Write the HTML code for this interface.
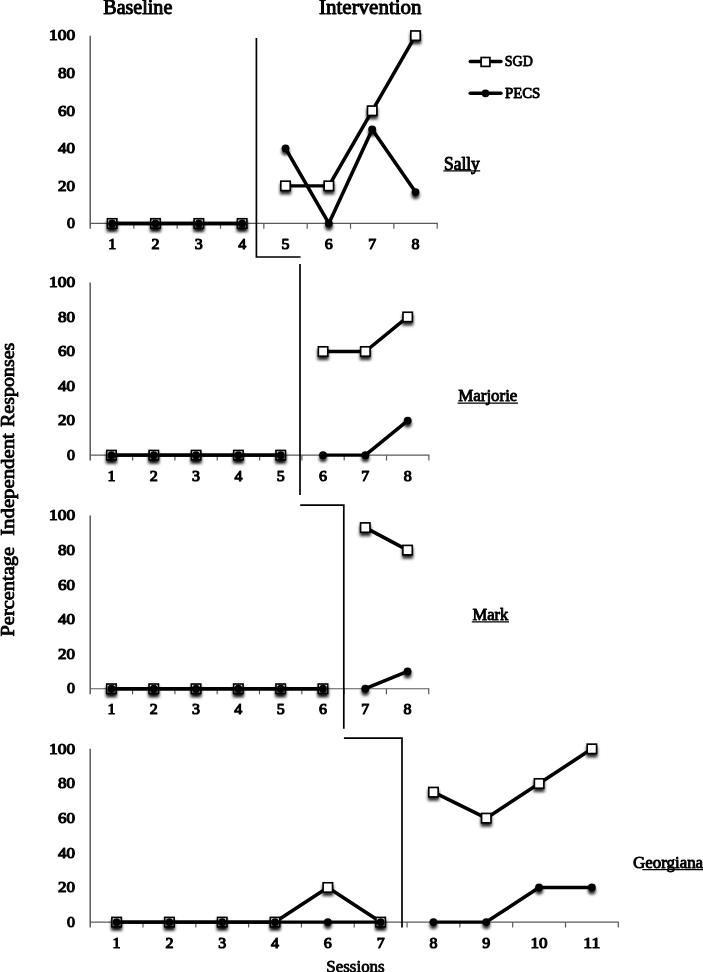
<!DOCTYPE html>
<html lang="en"><head><meta charset="utf-8"><title>Percentage Independent Responses</title>
<style>html,body{margin:0;padding:0;background:#fff}body{width:703px;height:972px;overflow:hidden}svg{display:block}text{font-family:"Liberation Serif", serif;fill:#000;stroke:#000;stroke-linejoin:round}</style>
</head><body>
<svg width="703" height="972" viewBox="0 0 703 972">
<defs><filter id="sh" x="0" y="0" width="703" height="972" filterUnits="userSpaceOnUse" primitiveUnits="userSpaceOnUse"><feGaussianBlur in="SourceAlpha" stdDeviation="1.7" result="b"/><feOffset in="b" dx="0" dy="2.7" result="o"/><feComponentTransfer in="o" result="s"><feFuncA type="linear" slope="0.85"/></feComponentTransfer><feMerge><feMergeNode in="s"/><feMergeNode in="SourceGraphic"/></feMerge></filter></defs>
<rect width="703" height="972" fill="#fff"/>
<g stroke="#5a5a5a" stroke-width="1.2" fill="none">
<path d="M90.2 35.65V228.85" stroke-width="1.5"/>
<path d="M90.2 223.45H437.8"/>
<path d="M133.82 223.45v5.4M177.16 223.45v5.4M220.50 223.45v5.4M263.84 223.45v5.4M307.18 223.45v5.4M350.52 223.45v5.4M393.86 223.45v5.4M437.20 223.45v5.4"/>
</g>
<text x="75.06" y="228.21" font-size="14.98" stroke-width="1.08" text-anchor="end" textLength="7.97" lengthAdjust="spacingAndGlyphs">0</text>
<text x="75.06" y="190.65" font-size="14.98" stroke-width="1.08" text-anchor="end" textLength="17.02" lengthAdjust="spacingAndGlyphs">20</text>
<text x="75.06" y="153.09" font-size="14.98" stroke-width="1.08" text-anchor="end" textLength="17.02" lengthAdjust="spacingAndGlyphs">40</text>
<text x="75.06" y="115.53" font-size="14.98" stroke-width="1.08" text-anchor="end" textLength="17.02" lengthAdjust="spacingAndGlyphs">60</text>
<text x="75.06" y="77.97" font-size="14.98" stroke-width="1.08" text-anchor="end" textLength="17.02" lengthAdjust="spacingAndGlyphs">80</text>
<text x="75.06" y="40.41" font-size="14.98" stroke-width="1.08" text-anchor="end" textLength="26.02" lengthAdjust="spacingAndGlyphs">100</text>
<text x="112.15" y="249.21" font-size="14.98" stroke-width="1.08" text-anchor="middle" textLength="7.97" lengthAdjust="spacingAndGlyphs">1</text>
<text x="155.49" y="249.21" font-size="14.98" stroke-width="1.08" text-anchor="middle" textLength="7.97" lengthAdjust="spacingAndGlyphs">2</text>
<text x="198.83" y="249.21" font-size="14.98" stroke-width="1.08" text-anchor="middle" textLength="7.97" lengthAdjust="spacingAndGlyphs">3</text>
<text x="242.17" y="249.21" font-size="14.98" stroke-width="1.08" text-anchor="middle" textLength="7.97" lengthAdjust="spacingAndGlyphs">4</text>
<text x="285.51" y="249.21" font-size="14.98" stroke-width="1.08" text-anchor="middle" textLength="7.97" lengthAdjust="spacingAndGlyphs">5</text>
<text x="328.85" y="249.21" font-size="14.98" stroke-width="1.08" text-anchor="middle" textLength="7.97" lengthAdjust="spacingAndGlyphs">6</text>
<text x="372.19" y="249.21" font-size="14.98" stroke-width="1.08" text-anchor="middle" textLength="7.97" lengthAdjust="spacingAndGlyphs">7</text>
<text x="415.53" y="249.21" font-size="14.98" stroke-width="1.08" text-anchor="middle" textLength="7.97" lengthAdjust="spacingAndGlyphs">8</text>
<path d="M112.15 223.45L155.49 223.45M155.49 223.45L198.83 223.45M198.83 223.45L242.17 223.45" fill="none" stroke="#000" stroke-width="3.4"/>
<path d="M285.51 185.89L328.85 185.89" fill="none" stroke="#000" stroke-width="3.4"/>
<path d="M328.85 185.89L372.19 110.77M372.19 110.77L415.53 35.65" fill="none" stroke="#000" stroke-width="3.55" stroke-linecap="round"/>
<g filter="url(#sh)" fill="#fff" stroke="#000" stroke-width="1.65">
<rect x="107.45" y="218.75" width="9.4" height="9.4"/>
<rect x="150.79" y="218.75" width="9.4" height="9.4"/>
<rect x="194.13" y="218.75" width="9.4" height="9.4"/>
<rect x="237.47" y="218.75" width="9.4" height="9.4"/>
<rect x="280.81" y="181.19" width="9.4" height="9.4"/>
<rect x="324.15" y="181.19" width="9.4" height="9.4"/>
<rect x="367.49" y="106.07" width="9.4" height="9.4"/>
<rect x="410.83" y="30.95" width="9.4" height="9.4"/>
</g>
<path d="M112.15 223.45L155.49 223.45M155.49 223.45L198.83 223.45M198.83 223.45L242.17 223.45" fill="none" stroke="#000" stroke-width="3.4"/>
<path d="M285.51 148.33L328.85 223.45M328.85 223.45L372.19 129.55M372.19 129.55L415.53 192.09" fill="none" stroke="#000" stroke-width="3.55" stroke-linecap="round"/>
<g filter="url(#sh)" fill="#000">
<circle cx="112.15" cy="223.45" r="3.95"/>
<circle cx="155.49" cy="223.45" r="3.95"/>
<circle cx="198.83" cy="223.45" r="3.95"/>
<circle cx="242.17" cy="223.45" r="3.95"/>
<circle cx="285.51" cy="148.33" r="3.95"/>
<circle cx="328.85" cy="223.45" r="3.95"/>
<circle cx="372.19" cy="129.55" r="3.95"/>
<circle cx="415.53" cy="192.09" r="3.95"/>
</g>
<g stroke="#5a5a5a" stroke-width="1.2" fill="none">
<path d="M90.2 282.4V460.54999999999995" stroke-width="1.5"/>
<path d="M90.2 455.15H429.45000000000005"/>
<path d="M132.62 455.15v5.4M174.94 455.15v5.4M217.26 455.15v5.4M259.57 455.15v5.4M301.89 455.15v5.4M344.21 455.15v5.4M386.53 455.15v5.4M428.85 455.15v5.4"/>
</g>
<text x="75.06" y="459.91" font-size="14.98" stroke-width="1.08" text-anchor="end" textLength="7.97" lengthAdjust="spacingAndGlyphs">0</text>
<text x="75.06" y="425.36" font-size="14.98" stroke-width="1.08" text-anchor="end" textLength="17.02" lengthAdjust="spacingAndGlyphs">20</text>
<text x="75.06" y="390.81" font-size="14.98" stroke-width="1.08" text-anchor="end" textLength="17.02" lengthAdjust="spacingAndGlyphs">40</text>
<text x="75.06" y="356.26" font-size="14.98" stroke-width="1.08" text-anchor="end" textLength="17.02" lengthAdjust="spacingAndGlyphs">60</text>
<text x="75.06" y="321.71" font-size="14.98" stroke-width="1.08" text-anchor="end" textLength="17.02" lengthAdjust="spacingAndGlyphs">80</text>
<text x="75.06" y="287.16" font-size="14.98" stroke-width="1.08" text-anchor="end" textLength="26.02" lengthAdjust="spacingAndGlyphs">100</text>
<text x="111.46" y="480.91" font-size="14.98" stroke-width="1.08" text-anchor="middle" textLength="7.97" lengthAdjust="spacingAndGlyphs">1</text>
<text x="153.78" y="480.91" font-size="14.98" stroke-width="1.08" text-anchor="middle" textLength="7.97" lengthAdjust="spacingAndGlyphs">2</text>
<text x="196.1" y="480.91" font-size="14.98" stroke-width="1.08" text-anchor="middle" textLength="7.97" lengthAdjust="spacingAndGlyphs">3</text>
<text x="238.42" y="480.91" font-size="14.98" stroke-width="1.08" text-anchor="middle" textLength="7.97" lengthAdjust="spacingAndGlyphs">4</text>
<text x="280.73" y="480.91" font-size="14.98" stroke-width="1.08" text-anchor="middle" textLength="7.97" lengthAdjust="spacingAndGlyphs">5</text>
<text x="323.05" y="480.91" font-size="14.98" stroke-width="1.08" text-anchor="middle" textLength="7.97" lengthAdjust="spacingAndGlyphs">6</text>
<text x="365.37" y="480.91" font-size="14.98" stroke-width="1.08" text-anchor="middle" textLength="7.97" lengthAdjust="spacingAndGlyphs">7</text>
<text x="407.69" y="480.91" font-size="14.98" stroke-width="1.08" text-anchor="middle" textLength="7.97" lengthAdjust="spacingAndGlyphs">8</text>
<path d="M111.46 455.15L153.78 455.15M153.78 455.15L196.10 455.15M196.10 455.15L238.42 455.15M238.42 455.15L280.73 455.15" fill="none" stroke="#000" stroke-width="3.4"/>
<path d="M323.05 351.50L365.37 351.50" fill="none" stroke="#000" stroke-width="3.4"/>
<path d="M365.37 351.50L407.69 316.95" fill="none" stroke="#000" stroke-width="3.55" stroke-linecap="round"/>
<g filter="url(#sh)" fill="#fff" stroke="#000" stroke-width="1.65">
<rect x="106.76" y="450.45" width="9.4" height="9.4"/>
<rect x="149.08" y="450.45" width="9.4" height="9.4"/>
<rect x="191.40" y="450.45" width="9.4" height="9.4"/>
<rect x="233.72" y="450.45" width="9.4" height="9.4"/>
<rect x="276.03" y="450.45" width="9.4" height="9.4"/>
<rect x="318.35" y="346.80" width="9.4" height="9.4"/>
<rect x="360.67" y="346.80" width="9.4" height="9.4"/>
<rect x="402.99" y="312.25" width="9.4" height="9.4"/>
</g>
<path d="M111.46 455.15L153.78 455.15M153.78 455.15L196.10 455.15M196.10 455.15L238.42 455.15M238.42 455.15L280.73 455.15" fill="none" stroke="#000" stroke-width="3.4"/>
<path d="M323.05 455.15L365.37 455.15" fill="none" stroke="#000" stroke-width="3.4"/>
<path d="M365.37 455.15L407.69 420.60" fill="none" stroke="#000" stroke-width="3.55" stroke-linecap="round"/>
<g filter="url(#sh)" fill="#000">
<circle cx="111.46" cy="455.15" r="3.95"/>
<circle cx="153.78" cy="455.15" r="3.95"/>
<circle cx="196.10" cy="455.15" r="3.95"/>
<circle cx="238.42" cy="455.15" r="3.95"/>
<circle cx="280.73" cy="455.15" r="3.95"/>
<circle cx="323.05" cy="455.15" r="3.95"/>
<circle cx="365.37" cy="455.15" r="3.95"/>
<circle cx="407.69" cy="420.60" r="3.95"/>
</g>
<g stroke="#5a5a5a" stroke-width="1.2" fill="none">
<path d="M90.2 515.45V694.13" stroke-width="1.5"/>
<path d="M90.2 688.73H429.33000000000004"/>
<path d="M132.59 688.73v5.4M174.89 688.73v5.4M217.20 688.73v5.4M259.50 688.73v5.4M301.81 688.73v5.4M344.12 688.73v5.4M386.42 688.73v5.4M428.73 688.73v5.4"/>
</g>
<text x="75.06" y="693.49" font-size="14.98" stroke-width="1.08" text-anchor="end" textLength="7.97" lengthAdjust="spacingAndGlyphs">0</text>
<text x="75.06" y="658.83" font-size="14.98" stroke-width="1.08" text-anchor="end" textLength="17.02" lengthAdjust="spacingAndGlyphs">20</text>
<text x="75.06" y="624.18" font-size="14.98" stroke-width="1.08" text-anchor="end" textLength="17.02" lengthAdjust="spacingAndGlyphs">40</text>
<text x="75.06" y="589.52" font-size="14.98" stroke-width="1.08" text-anchor="end" textLength="17.02" lengthAdjust="spacingAndGlyphs">60</text>
<text x="75.06" y="554.87" font-size="14.98" stroke-width="1.08" text-anchor="end" textLength="17.02" lengthAdjust="spacingAndGlyphs">80</text>
<text x="75.06" y="520.21" font-size="14.98" stroke-width="1.08" text-anchor="end" textLength="26.02" lengthAdjust="spacingAndGlyphs">100</text>
<text x="111.43" y="714.49" font-size="14.98" stroke-width="1.08" text-anchor="middle" textLength="7.97" lengthAdjust="spacingAndGlyphs">1</text>
<text x="153.74" y="714.49" font-size="14.98" stroke-width="1.08" text-anchor="middle" textLength="7.97" lengthAdjust="spacingAndGlyphs">2</text>
<text x="196.05" y="714.49" font-size="14.98" stroke-width="1.08" text-anchor="middle" textLength="7.97" lengthAdjust="spacingAndGlyphs">3</text>
<text x="238.35" y="714.49" font-size="14.98" stroke-width="1.08" text-anchor="middle" textLength="7.97" lengthAdjust="spacingAndGlyphs">4</text>
<text x="280.66" y="714.49" font-size="14.98" stroke-width="1.08" text-anchor="middle" textLength="7.97" lengthAdjust="spacingAndGlyphs">5</text>
<text x="322.96" y="714.49" font-size="14.98" stroke-width="1.08" text-anchor="middle" textLength="7.97" lengthAdjust="spacingAndGlyphs">6</text>
<text x="365.27" y="714.49" font-size="14.98" stroke-width="1.08" text-anchor="middle" textLength="7.97" lengthAdjust="spacingAndGlyphs">7</text>
<text x="407.58" y="714.49" font-size="14.98" stroke-width="1.08" text-anchor="middle" textLength="7.97" lengthAdjust="spacingAndGlyphs">8</text>
<path d="M111.43 688.73L153.74 688.73M153.74 688.73L196.05 688.73M196.05 688.73L238.35 688.73M238.35 688.73L280.66 688.73M280.66 688.73L322.96 688.73" fill="none" stroke="#000" stroke-width="3.4"/>
<path d="M365.27 527.58L407.58 550.11" fill="none" stroke="#000" stroke-width="3.55" stroke-linecap="round"/>
<g filter="url(#sh)" fill="#fff" stroke="#000" stroke-width="1.65">
<rect x="106.73" y="684.03" width="9.4" height="9.4"/>
<rect x="149.04" y="684.03" width="9.4" height="9.4"/>
<rect x="191.35" y="684.03" width="9.4" height="9.4"/>
<rect x="233.65" y="684.03" width="9.4" height="9.4"/>
<rect x="275.96" y="684.03" width="9.4" height="9.4"/>
<rect x="318.26" y="684.03" width="9.4" height="9.4"/>
<rect x="360.57" y="522.88" width="9.4" height="9.4"/>
<rect x="402.88" y="545.41" width="9.4" height="9.4"/>
</g>
<path d="M111.43 688.73L153.74 688.73M153.74 688.73L196.05 688.73M196.05 688.73L238.35 688.73M238.35 688.73L280.66 688.73M280.66 688.73L322.96 688.73" fill="none" stroke="#000" stroke-width="3.4"/>
<path d="M365.27 688.73L407.58 671.40" fill="none" stroke="#000" stroke-width="3.55" stroke-linecap="round"/>
<g filter="url(#sh)" fill="#000">
<circle cx="111.43" cy="688.73" r="3.95"/>
<circle cx="153.74" cy="688.73" r="3.95"/>
<circle cx="196.05" cy="688.73" r="3.95"/>
<circle cx="238.35" cy="688.73" r="3.95"/>
<circle cx="280.66" cy="688.73" r="3.95"/>
<circle cx="322.96" cy="688.73" r="3.95"/>
<circle cx="365.27" cy="688.73" r="3.95"/>
<circle cx="407.58" cy="671.40" r="3.95"/>
</g>
<g stroke="#5a5a5a" stroke-width="1.2" fill="none">
<path d="M90.2 748.85V927.5" stroke-width="1.5"/>
<path d="M90.2 922.1H618.9"/>
<path d="M143.01 922.1v5.4M195.82 922.1v5.4M248.63 922.1v5.4M301.44 922.1v5.4M354.25 922.1v5.4M407.06 922.1v5.4M459.87 922.1v5.4M512.68 922.1v5.4M565.49 922.1v5.4M618.30 922.1v5.4"/>
</g>
<text x="75.06" y="926.86" font-size="14.98" stroke-width="1.08" text-anchor="end" textLength="7.97" lengthAdjust="spacingAndGlyphs">0</text>
<text x="75.06" y="892.21" font-size="14.98" stroke-width="1.08" text-anchor="end" textLength="17.02" lengthAdjust="spacingAndGlyphs">20</text>
<text x="75.06" y="857.56" font-size="14.98" stroke-width="1.08" text-anchor="end" textLength="17.02" lengthAdjust="spacingAndGlyphs">40</text>
<text x="75.06" y="822.91" font-size="14.98" stroke-width="1.08" text-anchor="end" textLength="17.02" lengthAdjust="spacingAndGlyphs">60</text>
<text x="75.06" y="788.26" font-size="14.98" stroke-width="1.08" text-anchor="end" textLength="17.02" lengthAdjust="spacingAndGlyphs">80</text>
<text x="75.06" y="753.61" font-size="14.98" stroke-width="1.08" text-anchor="end" textLength="26.02" lengthAdjust="spacingAndGlyphs">100</text>
<text x="116.6" y="947.86" font-size="14.98" stroke-width="1.08" text-anchor="middle" textLength="7.97" lengthAdjust="spacingAndGlyphs">1</text>
<text x="169.41" y="947.86" font-size="14.98" stroke-width="1.08" text-anchor="middle" textLength="7.97" lengthAdjust="spacingAndGlyphs">2</text>
<text x="222.22" y="947.86" font-size="14.98" stroke-width="1.08" text-anchor="middle" textLength="7.97" lengthAdjust="spacingAndGlyphs">3</text>
<text x="275.03" y="947.86" font-size="14.98" stroke-width="1.08" text-anchor="middle" textLength="7.97" lengthAdjust="spacingAndGlyphs">4</text>
<text x="327.84" y="947.86" font-size="14.98" stroke-width="1.08" text-anchor="middle" textLength="7.97" lengthAdjust="spacingAndGlyphs">6</text>
<text x="380.65" y="947.86" font-size="14.98" stroke-width="1.08" text-anchor="middle" textLength="7.97" lengthAdjust="spacingAndGlyphs">7</text>
<text x="433.46" y="947.86" font-size="14.98" stroke-width="1.08" text-anchor="middle" textLength="7.97" lengthAdjust="spacingAndGlyphs">8</text>
<text x="486.27" y="947.86" font-size="14.98" stroke-width="1.08" text-anchor="middle" textLength="7.97" lengthAdjust="spacingAndGlyphs">9</text>
<text x="539.08" y="947.86" font-size="14.98" stroke-width="1.08" text-anchor="middle" textLength="17.02" lengthAdjust="spacingAndGlyphs">10</text>
<text x="591.89" y="947.86" font-size="14.98" stroke-width="1.08" text-anchor="middle" textLength="17.02" lengthAdjust="spacingAndGlyphs">11</text>
<path d="M116.60 922.10L169.41 922.10M169.41 922.10L222.22 922.10M222.22 922.10L275.03 922.10" fill="none" stroke="#000" stroke-width="3.4"/>
<path d="M275.03 922.10L327.84 887.45M327.84 887.45L380.65 922.10" fill="none" stroke="#000" stroke-width="3.55" stroke-linecap="round"/>
<path d="M433.46 792.16L486.27 818.15M486.27 818.15L539.08 783.50M539.08 783.50L591.89 748.85" fill="none" stroke="#000" stroke-width="3.55" stroke-linecap="round"/>
<g filter="url(#sh)" fill="#fff" stroke="#000" stroke-width="1.65">
<rect x="111.90" y="917.40" width="9.4" height="9.4"/>
<rect x="164.71" y="917.40" width="9.4" height="9.4"/>
<rect x="217.52" y="917.40" width="9.4" height="9.4"/>
<rect x="270.33" y="917.40" width="9.4" height="9.4"/>
<rect x="323.14" y="882.75" width="9.4" height="9.4"/>
<rect x="375.95" y="917.40" width="9.4" height="9.4"/>
<rect x="428.76" y="787.46" width="9.4" height="9.4"/>
<rect x="481.57" y="813.45" width="9.4" height="9.4"/>
<rect x="534.38" y="778.80" width="9.4" height="9.4"/>
<rect x="587.19" y="744.15" width="9.4" height="9.4"/>
</g>
<path d="M116.60 922.10L169.41 922.10M169.41 922.10L222.22 922.10M222.22 922.10L275.03 922.10M275.03 922.10L327.84 922.10M327.84 922.10L380.65 922.10" fill="none" stroke="#000" stroke-width="3.4"/>
<path d="M433.46 922.10L486.27 922.10M539.08 887.45L591.89 887.45" fill="none" stroke="#000" stroke-width="3.4"/>
<path d="M486.27 922.10L539.08 887.45" fill="none" stroke="#000" stroke-width="3.55" stroke-linecap="round"/>
<g filter="url(#sh)" fill="#000">
<circle cx="116.60" cy="922.10" r="3.95"/>
<circle cx="169.41" cy="922.10" r="3.95"/>
<circle cx="222.22" cy="922.10" r="3.95"/>
<circle cx="275.03" cy="922.10" r="3.95"/>
<circle cx="327.84" cy="922.10" r="3.95"/>
<circle cx="380.65" cy="922.10" r="3.95"/>
<circle cx="433.46" cy="922.10" r="3.95"/>
<circle cx="486.27" cy="922.10" r="3.95"/>
<circle cx="539.08" cy="887.45" r="3.95"/>
<circle cx="591.89" cy="887.45" r="3.95"/>
</g>
<g stroke="#000" stroke-width="1.7" fill="none">
<path d="M256.4 38V257H300.6"/>
<path d="M300 264V495"/>
<path d="M300.2 505.2H343.8V728.7"/>
<path d="M343.9 738.2H402V927.5"/>
</g>
<path d="M470.2 61.5H501" stroke="#000" stroke-width="3.4" stroke-linecap="round"/>
<rect x="481.1" y="57.5" width="8.8" height="8.9" fill="#fff" stroke="#000" stroke-width="1.7"/>
<path d="M470.2 93.3H501" stroke="#000" stroke-width="3.4" stroke-linecap="round"/>
<circle cx="485.5" cy="93.3" r="3.9" fill="#000"/>
<text x="504.76" y="66.34" font-size="15.42" stroke-width="0.92" text-anchor="start" textLength="28.08" lengthAdjust="spacingAndGlyphs">SGD</text>
<text x="504.96" y="98.34" font-size="15.42" stroke-width="0.92" text-anchor="start" textLength="35.38" lengthAdjust="spacingAndGlyphs">PECS</text>
<text x="103.28" y="13.52" font-size="20.05" stroke-width="0.97" text-anchor="start" textLength="69.03" lengthAdjust="spacingAndGlyphs">Baseline</text>
<text x="318.99" y="13.52" font-size="20.05" stroke-width="0.97" text-anchor="start" textLength="102.63" lengthAdjust="spacingAndGlyphs">Intervention</text>
<text x="443.99" y="169.51" font-size="18.13" stroke-width="0.98" text-anchor="start" textLength="35.82" lengthAdjust="spacingAndGlyphs">Sally</text>
<path d="M443.4 170.8H480.2" stroke="#000" stroke-width="1.3"/>
<text x="458.23" y="401.27" font-size="15.91" stroke-width="0.86" text-anchor="start" textLength="59.14" lengthAdjust="spacingAndGlyphs">Marjorie</text>
<path d="M457.6 403.1H518" stroke="#000" stroke-width="1.3"/>
<text x="472.43" y="619.98" font-size="15.72" stroke-width="0.85" text-anchor="start" textLength="35.85" lengthAdjust="spacingAndGlyphs">Mark</text>
<path d="M471.8 621.8H509" stroke="#000" stroke-width="1.3"/>
<text x="633.13" y="868.27" font-size="15.91" stroke-width="0.86" text-anchor="start" textLength="69.94" lengthAdjust="spacingAndGlyphs">Georgiana</text>
<path d="M642.4 869.6H703" stroke="#000" stroke-width="1.3"/>
<text x="326.38" y="971.91" font-size="16.04" stroke-width="0.77" text-anchor="start" textLength="58.23" lengthAdjust="spacingAndGlyphs">Sessions</text>
<g transform="translate(14 636.7) rotate(-90)">
<text y="-0.41" font-size="18.18" stroke-width="0.81"><tspan x="0.11" textLength="89.79" lengthAdjust="spacingAndGlyphs">Percentage</tspan> <tspan x="100.91" textLength="102.69" lengthAdjust="spacingAndGlyphs">Independent</tspan> <tspan x="209.61" textLength="84.49" lengthAdjust="spacingAndGlyphs">Responses</tspan></text>
</g>
</svg>
</body></html>
